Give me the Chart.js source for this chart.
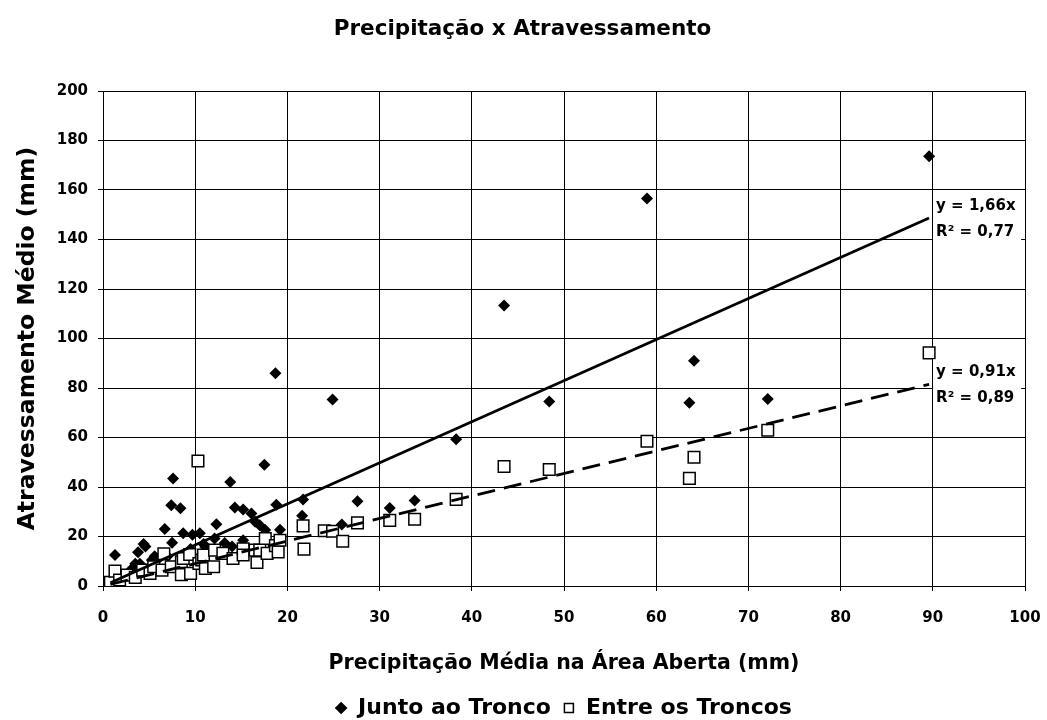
<!DOCTYPE html>
<html lang="pt">
<head>
<meta charset="utf-8">
<title>Precipitação x Atravessamento</title>
<script src="https://cdn.jsdelivr.net/npm/chart.js@4.4.1/dist/chart.umd.min.js"></script>
<style>
  html, body { margin: 0; padding: 0; background: #fff; }
  #wrap { width: 1047px; height: 720px; }
</style>
</head>
<body>
<div id="wrap"><canvas id="chart" width="1047" height="720"></canvas></div>
<script>
// ---- dados ----
const juntoX = [1.3, 2.2, 3.0, 3.5, 3.8, 4.0, 4.4, 4.6, 5.3, 5.6, 6.0, 6.7, 7.0, 7.4, 7.5, 7.6, 8.4, 8.7, 9.5, 9.7,
  10.5, 10.9, 11.1, 12.1, 12.3, 12.5, 13.2, 13.8, 14.0, 14.3, 15.2, 15.2, 16.1, 16.5, 17.0, 17.5, 17.6, 18.7, 18.8, 19.2,
  21.6, 21.7, 24.9, 25.9, 27.6, 31.1, 33.8, 38.3, 43.5, 48.4, 59.0, 63.6, 64.1, 72.1, 89.6];
const juntoY = [12.5, 4.5, 6.5, 9.0, 13.6, 9.0, 17.0, 16.0, 10.5, 12.0, 11.0, 23.0, 12.0, 32.6, 17.5, 43.4, 31.4, 21.3, 15.0, 20.7,
  21.3, 17.0, 15.8, 19.2, 25.0, 14.5, 17.4, 42.0, 16.0, 31.7, 30.9, 18.5, 29.3, 26.0, 24.5, 49.0, 22.6, 86.0, 32.8, 22.7,
  28.4, 35.0, 75.4, 24.8, 34.2, 31.5, 34.5, 59.3, 113.3, 74.5, 156.6, 74.0, 91.0, 75.6, 173.6];

const entreX = [0.8, 1.3, 1.8, 2.6, 3.5, 4.3, 5.1, 5.5, 6.4, 6.6, 7.4, 8.5, 8.5, 8.7, 9.4, 9.5, 10.3, 10.4, 10.7, 10.9,
  11.1, 12.0, 12.1, 13.0, 14.1, 15.2, 15.2, 16.5, 16.7, 17.0, 17.6, 17.8, 18.7, 19.0, 19.2, 21.7, 21.8, 24.0, 24.9, 26.0,
  27.6, 31.1, 33.8, 38.3, 43.5, 48.4, 59.0, 63.6, 64.1, 72.1, 89.6];
const entreY = [1.5, 6.0, 2.4, 4.4, 3.5, 6.4, 5.1, 7.8, 6.4, 13.0, 7.8, 4.6, 9.8, 11.1, 12.7, 5.1, 50.5, 9.1, 10.5, 12.5,
  7.1, 7.8, 14.5, 13.2, 11.1, 15.0, 12.5, 14.5, 9.5, 14.5, 19.2, 13.2, 16.3, 13.8, 18.5, 24.3, 14.9, 22.3, 22.1, 18.1,
  25.5, 26.5, 27.0, 35.0, 48.3, 47.1, 58.5, 43.5, 52.0, 62.9, 94.2];

// linhas de tendência (extremos)
const trendX = [0.8, 89.6];
const trendJuntoY = [1.3, 148.7];
const trendEntreY = [0.7, 81.5];
const trendLabels = [['y = 1,66x', 'R² = 0,77'], ['y = 0,91x', 'R² = 0,89']];

const FONT = '"DejaVu Sans", "Liberation Sans", Arial, sans-serif';
const toPts = (xs, ys) => xs.map((x, i) => ({ x, y: ys[i] }));

// caixas brancas com equação + R²
const trendLabelPlugin = {
  id: 'trendLabels',
  afterDatasetsDraw(chart) {
    const { ctx, scales: { x, y } } = chart;
    ctx.save();
    ctx.font = 'bold 15px ' + FONT;
    ctx.textBaseline = 'middle';
    [2, 3].forEach((di, k) => {
      const pts = chart.data.datasets[di].data;
      const last = pts[pts.length - 1];
      const px = x.getPixelForValue(last.x) + 4;
      const py = y.getPixelForValue(last.y);
      ctx.fillStyle = '#fff';
      ctx.fillRect(px, py - 25, 88, 52);
      ctx.fillStyle = '#000';
      ctx.fillText(trendLabels[k][0], px + 3, py - 12);
      ctx.fillText(trendLabels[k][1], px + 3, py + 14);
    });
    ctx.restore();
  }
};

Chart.defaults.font.family = FONT;
Chart.defaults.font.weight = 'bold';
Chart.defaults.color = '#000';

const chart = new Chart(document.getElementById('chart'), {
  type: 'scatter',
  data: {
    datasets: [
      { label: 'Junto ao Tronco', data: toPts(juntoX, juntoY), pointStyle: 'rectRot', radius: 6,
        backgroundColor: '#000', borderColor: '#000', borderWidth: 0, order: 2 },
      { label: 'Entre os Troncos', data: toPts(entreX, entreY), pointStyle: 'rect', radius: 8.2,
        backgroundColor: '#fff', borderColor: '#000', borderWidth: 1.5, order: 1 },
      { label: 'trend1', type: 'line', data: toPts(trendX, trendJuntoY), showLine: true, pointRadius: 0,
        borderColor: '#000', borderWidth: 2.8, order: 0 },
      { label: 'trend2', type: 'line', data: toPts(trendX, trendEntreY), showLine: true, pointRadius: 0,
        borderColor: '#000', borderWidth: 2.8, borderDash: [18, 9], order: 0 }
    ]
  },
  options: {
    responsive: false,
    animation: false,
    layout: { padding: { left: 0, right: 22, top: 0, bottom: 0 } },
    plugins: {
      title: {
        display: true,
        text: 'Precipitação x Atravessamento',
        font: { size: 21.5, weight: 'bold' },
        color: '#000',
        padding: { top: 17, bottom: 48.2 }
      },
      legend: {
        position: 'bottom',
        labels: {
          usePointStyle: true,
          boxWidth: 12,
          boxHeight: 9,
          padding: 12,
          font: { size: 22, weight: 'bold' },
          color: '#000',
          filter: item => item.datasetIndex < 2,
          sort: (a, b) => a.datasetIndex - b.datasetIndex
        }
      },
      tooltip: { enabled: false }
    },
    scales: {
      x: {
        type: 'linear',
        min: 0, max: 100,
        ticks: { stepSize: 10, padding: 18, font: { size: 15, weight: 'bold' }, color: '#000' },
        grid: { color: '#000', lineWidth: 1, tickLength: 5 },
        border: { color: '#000', width: 1 },
        title: {
          display: true,
          text: 'Precipitação Média na Área Aberta (mm)',
          font: { size: 20.5, weight: 'bold' },
          color: '#000',
          padding: { top: 0, bottom: 0 }
        },
        afterFit(scale) {
          scale.height = 720 - 586 - scale.chart.legend.height;
          scale.paddingLeft = 0;
          scale.paddingRight = 0;
        }
      },
      y: {
        type: 'linear',
        min: 0, max: 200,
        ticks: { stepSize: 20, padding: 10, font: { size: 15, weight: 'bold' }, color: '#000' },
        grid: { color: '#000', lineWidth: 1, tickLength: 5 },
        border: { color: '#000', width: 1 },
        title: {
          display: true,
          text: 'Atravessamento Médio (mm)',
          font: { size: 23.5, weight: 'bold' },
          color: '#000',
          padding: { top: 14, bottom: 0 }
        },
        afterFit(scale) { scale.width = 103; }
      }
    }
  },
  plugins: [trendLabelPlugin]
});

// no Excel o título e a legenda não ficam centrados sobre a área útil
function shiftBox(box, dx, dy) {
  const draw = box.draw;
  box.draw = function () {
    const c = this.ctx;
    c.save();
    c.translate(dx, dy);
    draw.apply(this, arguments);
    c.restore();
  };
}
shiftBox(chart.titleBlock, 10, 0);
shiftBox(chart.legend, 51, 9);
chart.draw();
</script>
</body>
</html>
